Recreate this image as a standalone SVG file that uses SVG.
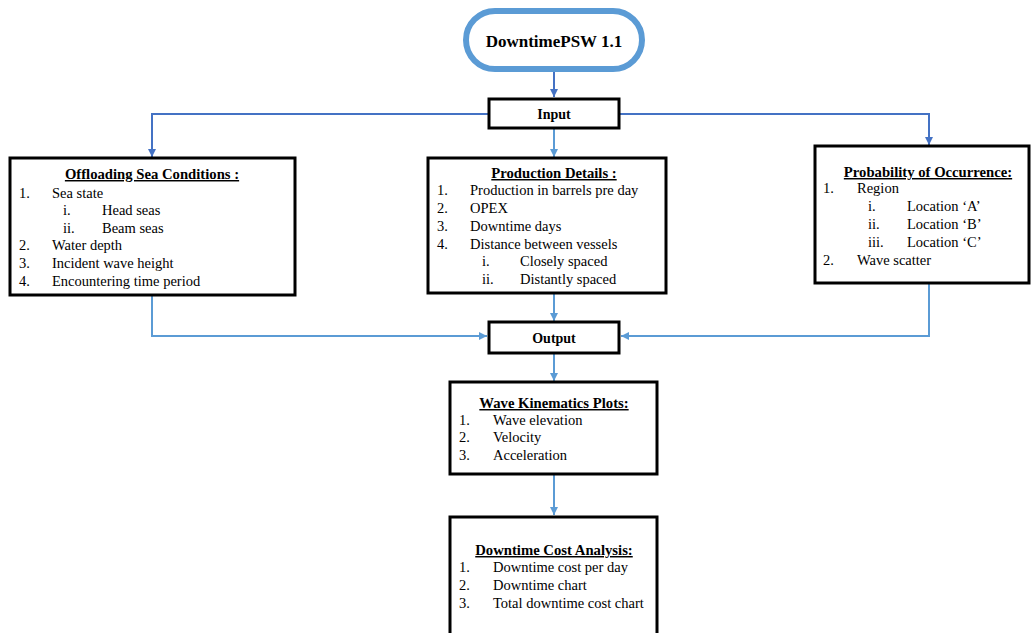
<svg xmlns="http://www.w3.org/2000/svg" width="1032" height="633" viewBox="0 0 1032 633">
<defs>
<marker id="ad" viewBox="0 0 10 10" refX="10" refY="5" markerWidth="8" markerHeight="8" markerUnits="userSpaceOnUse" orient="auto"><path d="M0,0 L10,5 L0,10 z" fill="#4472C4"/></marker>
<marker id="al" viewBox="0 0 10 10" refX="10" refY="5" markerWidth="8" markerHeight="8" markerUnits="userSpaceOnUse" orient="auto"><path d="M0,0 L10,5 L0,10 z" fill="#5B9BD5"/></marker>
</defs>
<style>
text{font-family:"Liberation Serif","Times New Roman",serif;fill:#000;font-size:14.5px}
.b{font-weight:bold}
.h{font-weight:bold;text-decoration:underline;font-size:14.7px}
.box{fill:#fff;stroke:#000;stroke-width:3}
.cd{fill:none;stroke:#4472C4;stroke-width:2}
.cl{fill:none;stroke:#5B9BD5;stroke-width:2}
</style>
<rect width="1032" height="633" fill="#fff"/>
<g id="connectors">
<path class="cd" d="M554,70 V97" marker-end="url(#ad)"/>
<path class="cd" d="M488,114 H152 V157" marker-end="url(#ad)"/>
<path class="cd" d="M620,114 H929 V145" marker-end="url(#ad)"/>
<path class="cl" d="M554,129 V157" marker-end="url(#al)"/>
<path class="cl" d="M152,296 V336 H487" marker-end="url(#al)"/>
<path class="cl" d="M929,284 V336 H621" marker-end="url(#al)"/>
<path class="cl" d="M554,294 V321" marker-end="url(#al)"/>
<path class="cl" d="M554,354 V381" marker-end="url(#al)"/>
<path class="cl" d="M554,475 V515" marker-end="url(#al)"/>
</g>
<g id="title">
<rect x="466" y="11" width="176" height="58" rx="29" ry="29" fill="#fff" stroke="#5B9BD5" stroke-width="6"/>
<text class="b" x="554" y="47" text-anchor="middle" style="font-size:17px">DowntimePSW 1.1</text>
</g>
<g id="input">
<rect class="box" x="489" y="99" width="130" height="29"/>
<text class="b" x="554" y="119" text-anchor="middle" style="font-size:14px">Input</text>
</g>
<g id="offloading">
<rect class="box" x="10" y="158" width="285" height="137"/>
<text class="h" x="152" y="179" text-anchor="middle">Offloading Sea Conditions :</text>
<text x="19" y="198">1.</text><text x="52" y="198">Sea state</text>
<text x="63" y="215">i.</text><text x="102" y="215">Head seas</text>
<text x="63" y="233">ii.</text><text x="102" y="233">Beam seas</text>
<text x="19" y="250">2.</text><text x="52" y="250">Water depth</text>
<text x="19" y="268">3.</text><text x="52" y="268">Incident wave height</text>
<text x="19" y="286">4.</text><text x="52" y="286">Encountering time period</text>
</g>
<g id="production">
<rect class="box" x="428" y="158" width="238" height="135"/>
<text class="h" x="554" y="178" text-anchor="middle">Production Details :</text>
<text x="437" y="195">1.</text><text x="470" y="195">Production in barrels pre day</text>
<text x="437" y="213">2.</text><text x="470" y="213">OPEX</text>
<text x="437" y="231">3.</text><text x="470" y="231">Downtime days</text>
<text x="437" y="249">4.</text><text x="470" y="249">Distance between vessels</text>
<text x="482" y="266">i.</text><text x="520" y="266">Closely spaced</text>
<text x="482" y="284">ii.</text><text x="520" y="284">Distantly spaced</text>
</g>
<g id="probability">
<rect class="box" x="815" y="146" width="214" height="137"/>
<text class="h" x="928" y="177" text-anchor="middle">Probability of Occurrence:</text>
<text x="823" y="193">1.</text><text x="857" y="193">Region</text>
<text x="868" y="211">i.</text><text x="907" y="211">Location ‘A’</text>
<text x="868" y="229">ii.</text><text x="907" y="229">Location ‘B’</text>
<text x="868" y="247">iii.</text><text x="907" y="247">Location ‘C’</text>
<text x="823" y="265">2.</text><text x="857" y="265">Wave scatter</text>
</g>
<g id="output">
<rect class="box" x="489" y="322" width="130" height="31"/>
<text class="b" x="554" y="343" text-anchor="middle" style="font-size:14px">Output</text>
</g>
<g id="wave">
<rect class="box" x="450" y="382" width="207" height="92"/>
<text class="h" x="554" y="408" text-anchor="middle">Wave Kinematics Plots:</text>
<text x="459" y="425">1.</text><text x="493" y="425">Wave elevation</text>
<text x="459" y="442">2.</text><text x="493" y="442">Velocity</text>
<text x="459" y="460">3.</text><text x="493" y="460">Acceleration</text>
</g>
<g id="downtime">
<rect class="box" x="450" y="517" width="207" height="130"/>
<text class="h" x="554" y="555" text-anchor="middle">Downtime Cost Analysis:</text>
<text x="459" y="572">1.</text><text x="493" y="572">Downtime cost per day</text>
<text x="459" y="590">2.</text><text x="493" y="590">Downtime chart</text>
<text x="459" y="608">3.</text><text x="493" y="608">Total downtime cost chart</text>
</g>
</svg>
